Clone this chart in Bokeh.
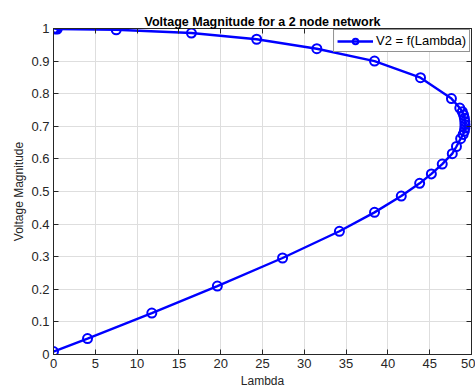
from bokeh.plotting import figure
from bokeh.models import (LinearAxis, FixedTicker, Range1d, Legend, LegendItem,
                          NumeralTickFormatter)
from bokeh.embed import file_html
from bokeh.resources import INLINE

# Data (PV curve of a 2-node network)
lam = [0.0, 0.15, 0.3, 0.45, 7.5, 16.5, 24.3, 31.5, 38.4, 43.9, 47.6, 48.6,
       48.9, 49.05, 49.15, 49.2, 49.22, 49.2, 49.15, 49.0,
       48.7, 48.2, 47.7, 46.5, 45.2, 43.8, 41.6, 38.4, 34.2, 27.4, 19.6,
       11.76, 4.07, 0.0]
volt = [1.0, 0.9995, 0.999, 0.9985, 0.996, 0.986, 0.967, 0.938, 0.900, 0.849,
        0.785, 0.756,
        0.745, 0.735, 0.725, 0.715, 0.705, 0.695, 0.685, 0.675,
        0.662, 0.638, 0.616, 0.584, 0.554, 0.525, 0.486, 0.436, 0.378, 0.296,
        0.210, 0.127, 0.049, 0.009]

x_ticks = [0, 5, 10, 15, 20, 25, 30, 35, 40, 45, 50]
y_ticks = [0, 0.1, 0.2, 0.3, 0.4, 0.5, 0.6, 0.7, 0.8, 0.9, 1.0]

title_text = "Voltage Magnitude for a 2 node network"
x_label = "Lambda"
y_label = "Voltage Magnitude"
series_label = "V2 = f(Lambda)"

AX = "#262626"
BLUE = "#0000ff"
FONT = "Liberation Sans"

p = figure(width=475, height=390, output_backend="svg", toolbar_location=None,
           x_range=Range1d(0, 50), y_range=Range1d(0, 1),
           min_border_left=53, min_border_right=4, min_border_top=28,
           min_border_bottom=34, background_fill_color="white",
           border_fill_color="white")

p.title.text = title_text
p.title.align = "center"
p.title.text_font = FONT
p.title.text_font_size = "12.5px"
p.title.text_font_style = "bold"
p.title.text_color = "#000000"
p.title.standoff = 0

p.outline_line_color = AX

for ax, ticks in ((p.xaxis[0], x_ticks), (p.yaxis[0], y_ticks)):
    ax.ticker = FixedTicker(ticks=ticks)
    ax.major_tick_in = 5
    ax.major_tick_out = 0
    ax.minor_tick_line_color = None
    ax.axis_line_color = AX
    ax.major_tick_line_color = AX
    ax.major_label_text_color = AX
    ax.major_label_text_font = FONT
    ax.major_label_text_font_size = "13px"
    ax.axis_label_text_font = FONT
    ax.axis_label_text_font_size = "12px"
    ax.axis_label_text_font_style = "normal"
    ax.axis_label_text_color = AX

p.xaxis[0].axis_label = x_label
p.yaxis[0].axis_label = y_label
p.xaxis[0].major_label_standoff = 4
p.xaxis[0].axis_label_standoff = 3
p.yaxis[0].major_label_standoff = 4
p.yaxis[0].axis_label_standoff = 2
p.yaxis[0].formatter = NumeralTickFormatter(format="0.[0]")

# Box axes (ticks only, no labels) on the right and top
ax_r = LinearAxis(ticker=FixedTicker(ticks=y_ticks), major_tick_in=5, major_tick_out=0,
                  minor_tick_line_color=None, axis_line_color=AX,
                  major_tick_line_color=AX, major_label_text_color=None,
                  major_label_text_font_size="1px", major_label_standoff=0)
ax_t = LinearAxis(ticker=FixedTicker(ticks=x_ticks), major_tick_in=5, major_tick_out=0,
                  minor_tick_line_color=None, axis_line_color=AX,
                  major_tick_line_color=AX, major_label_text_color=None,
                  major_label_text_font_size="1px", major_label_standoff=0)
p.add_layout(ax_r, "right")
p.add_layout(ax_t, "above")

p.xgrid.ticker = FixedTicker(ticks=x_ticks)
p.ygrid.ticker = FixedTicker(ticks=y_ticks)
p.xgrid.grid_line_color = "#dedede"
p.ygrid.grid_line_color = "#dedede"

r_line = p.line(lam, volt, line_color=BLUE, line_width=2.4)
r_pts = p.scatter(lam, volt, marker="circle", size=9, fill_color=None,
                  line_color=BLUE, line_width=2)

legend = Legend(items=[LegendItem(label=series_label, renderers=[r_line, r_pts])],
                location="top_right", margin=1, padding=3, spacing=0,
                label_text_font=FONT, label_text_font_size="13px",
                label_text_color="#000000", label_standoff=3,
                glyph_width=36, glyph_height=14,
                border_line_color=AX, border_line_width=1,
                background_fill_color="white", background_fill_alpha=1)
p.add_layout(legend, "center")

open("out.html", "w").write(file_html(p, INLINE))
